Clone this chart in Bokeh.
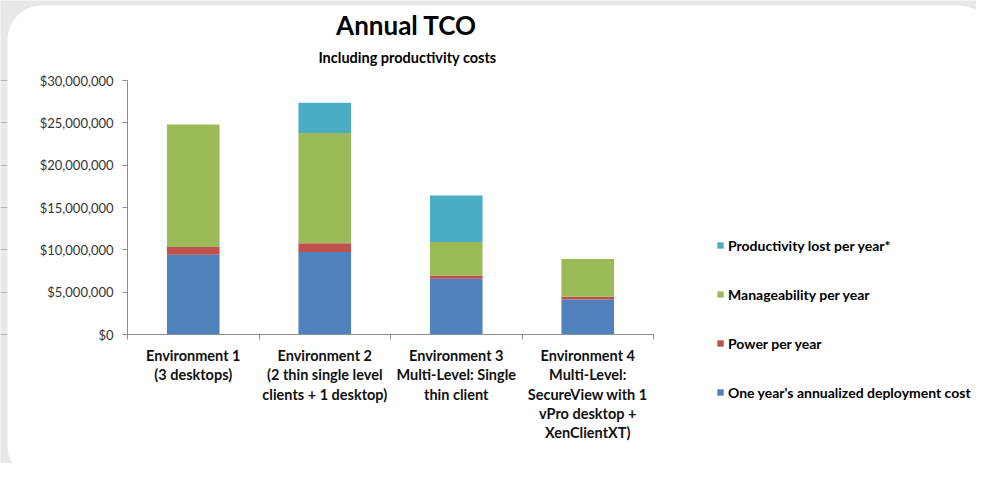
from bokeh.plotting import figure
from bokeh.models import (ColumnDataSource, Range1d, FixedTicker, NumeralTickFormatter,
                          Legend, LegendItem, Label, LabelSet, BoxAnnotation)
from bokeh.core.properties import value
from bokeh.embed import file_html
from bokeh.resources import INLINE

# ---- data ----
categories = [
    "Environment 1\n(3 desktops)",
    "Environment 2\n(2 thin single level\nclients + 1 desktop)",
    "Environment 3\nMulti-Level: Single\nthin client",
    "Environment 4\nMulti-Level:\nSecureView with 1\nvPro desktop +\nXenClientXT)",
]
deployment = [9430000, 9740000, 6590000, 4140000]
power = [900000, 1030000, 390000, 320000]
manageability = [14480000, 13040000, 3940000, 4450000]
productivity = [0, 3550000, 5490000, 0]
series_keys = ["deployment", "power", "manageability", "productivity"]
series_names = ["One year's annualized deployment cost", "Power per year",
                "Manageability per year", "Productivity lost per year*"]
colors = ["#4f81bd", "#c0504d", "#9bbb59", "#4bacc6"]
y_ticks = [0, 5000000, 10000000, 15000000, 20000000, 25000000, 30000000]
y_max = 30000000

FONT = "Lato"
W, H = 976, 463
# plot-area placement in pixels (left, right, top, bottom of the value area)
PX_L, PX_R, PX_T, PX_B = 127, 653, 80, 334

n = len(categories)
ux = (PX_R - PX_L) / n
uy = (PX_B - PX_T) / y_max
x_range = Range1d(-PX_L / ux, n + (W - PX_R) / ux)
y_range = Range1d(-(H - PX_B) / uy, y_max + PX_T / uy)

x_pos = [i + 0.5 for i in range(n)]
src = ColumnDataSource(dict(x=x_pos, deployment=deployment, power=power,
                            manageability=manageability, productivity=productivity))

p = figure(width=W, height=H, output_backend="svg", toolbar_location=None,
           x_range=x_range, y_range=y_range)
p.title.visible = False
p.min_border = 0
p.min_border_left = 0
p.min_border_right = 0
p.min_border_top = 0
p.min_border_bottom = 0
p.outline_line_color = None
p.background_fill_color = "#e7e8eb"
p.border_fill_color = "#e7e8eb"

# white rounded panel behind the chart
p.add_layout(BoxAnnotation(left=7, right=W + 16, top=H - 5, bottom=-16,
                           left_units="screen", right_units="screen",
                           top_units="screen", bottom_units="screen",
                           fill_color="white", fill_alpha=1, line_color=None,
                           border_radius=34, level="underlay"))

renderers = p.vbar_stack(series_keys, x="x", width=0.4, source=src,
                         fill_color=colors, line_color=None)

# axes (placed at the data origin)
p.yaxis.fixed_location = 0
p.yaxis.bounds = (0, y_max)
p.yaxis.ticker = FixedTicker(ticks=y_ticks)
p.yaxis.formatter = NumeralTickFormatter(format="$0,0")
p.yaxis.major_label_text_font = FONT
p.yaxis.major_label_text_font_size = "13px"
p.yaxis.major_label_text_color = "#333333"
p.yaxis.major_label_standoff = 9
p.yaxis.major_tick_out = 5
p.yaxis.major_tick_in = 0
p.yaxis.minor_tick_line_color = None
p.yaxis.axis_line_color = "#8e8e8e"
p.yaxis.major_tick_line_color = "#8e8e8e"

p.xaxis.fixed_location = 0
p.xaxis.bounds = (0, n)
p.xaxis.ticker = FixedTicker(ticks=list(range(n + 1)))
p.xaxis.major_label_overrides = {i: "" for i in range(n + 1)}
p.xaxis.major_tick_out = 5
p.xaxis.major_tick_in = 0
p.xaxis.minor_tick_line_color = None
p.xaxis.axis_line_color = "#8e8e8e"
p.xaxis.major_tick_line_color = "#8e8e8e"

p.xgrid.grid_line_color = None
p.ygrid.grid_line_color = "#b4b4b4"
p.ygrid.bounds = (0, n)
p.ygrid.ticker = FixedTicker(ticks=y_ticks)

# category labels (multi-line) below the axis
lx, ly, lt = [], [], []
for xi, cat in zip(x_pos, categories):
    for k, line in enumerate(cat.split("\n")):
        lx.append(xi)
        ly.append(H - 355 - 19.3 * k)
        lt.append(line)
lab_src = ColumnDataSource(dict(x=lx, y=ly, text=lt))
p.add_layout(LabelSet(x="x", y="y", text="text", source=lab_src, x_units="data",
                      y_units="screen", text_align="center", text_baseline="middle",
                      text_font=value(FONT), text_font_style="bold",
                      text_font_size="14.5px", text_color="#111111"))

# titles
p.add_layout(Label(x=406, y=H - 24, x_units="screen", y_units="screen", text="Annual TCO",
                   text_align="center", text_baseline="middle", text_font=FONT,
                   text_font_style="bold", text_font_size="26px", text_color="#000000"))
p.add_layout(Label(x=407, y=H - 57, x_units="screen", y_units="screen",
                   text="Including productivity costs", text_align="center",
                   text_baseline="middle", text_font=FONT, text_font_style="bold",
                   text_font_size="14.5px", text_color="#000000"))

# legend (reverse order: top series first)
items = [LegendItem(label=series_names[i], renderers=[renderers[i]])
         for i in reversed(range(len(series_names)))]
legend = Legend(items=items, location=(716, H - 402), orientation="vertical",
                glyph_width=8, glyph_height=8, label_height=20, spacing=29,
                label_standoff=4, padding=0, margin=0,
                border_line_color=None, background_fill_alpha=0,
                label_text_font=FONT, label_text_font_style="bold",
                label_text_font_size="14px", label_text_color="#000000")
p.add_layout(legend, "center")

open("out.html", "w").write(file_html(p, INLINE))
